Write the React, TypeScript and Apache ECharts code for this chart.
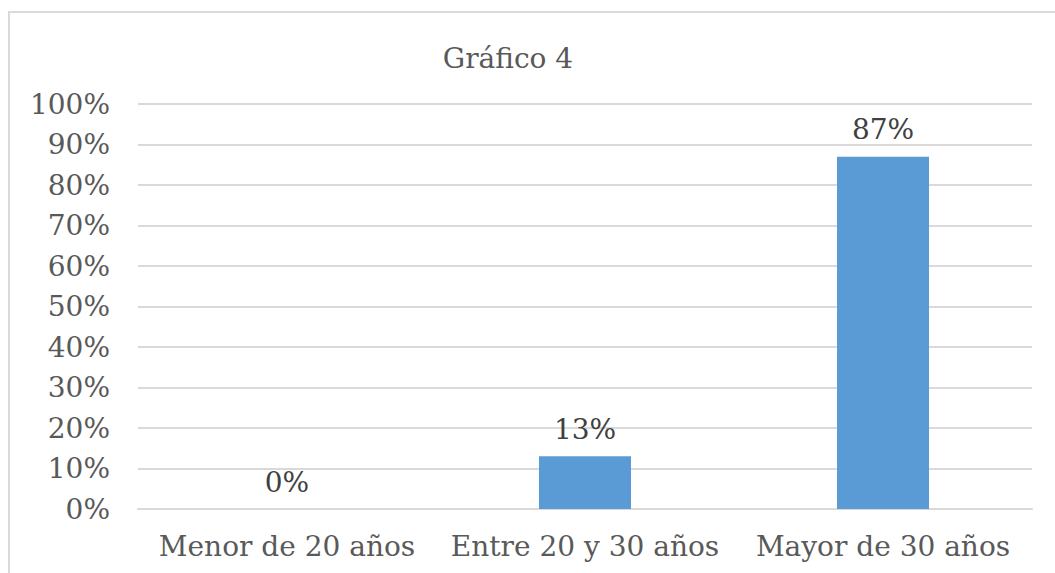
import React, { useEffect, useRef } from "react";
import * as echarts from "echarts";

const categories = ["Menor de 20 años", "Entre 20 y 30 años", "Mayor de 30 años"];
const values = [0, 13, 87];
const title = "Gráfico 4";

export default function App() {
  const ref = useRef<HTMLDivElement>(null);
  useEffect(() => {
    const chart = echarts.init(ref.current!, null, { renderer: "svg" });
    const font = "DejaVu Serif";
    chart.setOption({
      animation: false,
      backgroundColor: "#ffffff",
      title: {
        text: title,
        left: 503,
        textAlign: "center",
        top: 39,
        textStyle: { fontFamily: font, fontSize: 28, fontWeight: "normal", color: "#595959" },
      },
      graphic: [
        {
          type: "rect",
          shape: { x: 9, y: 12, width: 1100, height: 600 },
          style: { fill: "none", stroke: "#d9d9d9", lineWidth: 2 },
          silent: true,
        },
      ],
      grid: { left: 138, right: 23, top: 104, bottom: 64 },
      xAxis: {
        type: "category",
        data: categories,
        axisLine: { show: true, lineStyle: { color: "#d9d9d9", width: 2 } },
        axisTick: { show: false },
        axisLabel: { fontFamily: font, fontSize: 28, color: "#595959", margin: 23, interval: 0, hideOverlap: false },
      },
      yAxis: {
        type: "value",
        min: 0,
        max: 100,
        interval: 10,
        axisLine: { show: false },
        axisTick: { show: false },
        splitLine: { lineStyle: { color: "#d9d9d9", width: 2 } },
        axisLabel: {
          fontFamily: font,
          fontSize: 28,
          color: "#595959",
          margin: 28,
          formatter: (v: number) => v + "%",
        },
      },
      series: [
        {
          type: "bar",
          data: values,
          barWidth: 92,
          itemStyle: { color: "#5b9bd5" },
          label: {
            show: true,
            position: "top",
            distance: 13,
            fontFamily: font,
            fontSize: 28,
            color: "#404040",
            formatter: (p: any) => p.value + "%",
          },
        },
      ],
    });
    return () => chart.dispose();
  }, []);
  return (
    <div
      ref={ref}
      style={{ position: "absolute", left: 0, top: 0, width: 1055, height: 573 }}
    />
  );
}
